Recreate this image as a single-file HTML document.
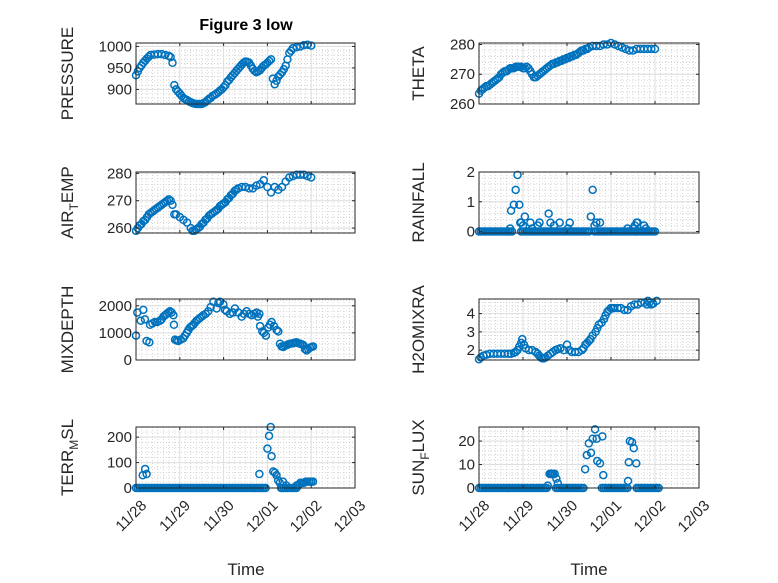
<!DOCTYPE html>
<html><head><meta charset="utf-8"><style>
html,body{margin:0;padding:0;background:#fff;}
svg{display:block;font-family:"Liberation Sans","DejaVu Sans",sans-serif;}
</style></head><body>
<svg id="fig" width="778" height="583" viewBox="0 0 778 583" xmlns="http://www.w3.org/2000/svg">
<rect width="778" height="583" fill="#fff"/>
<text x="246" y="30" font-size="16" font-weight="bold" text-anchor="middle" fill="#000">Figure 3 low</text>
<text x="246" y="575" font-size="17" text-anchor="middle" fill="#262626">Time</text>
<text x="589" y="575" font-size="17" text-anchor="middle" fill="#262626">Time</text>
</svg>
<script>
// ---- data (hours since 11/28 00:00) ----
const dateLabels = ["11/28","11/29","11/30","12/01","12/02","12/03"];

const presHours = [0,1,2,3,4,5,6,7,8,10,12,14,16,18,19,20,21,22,23,24,25,26,27,28,29,30,31,32,33,34,35,36,37,38,39,40,41,42,43,44,45,46,47,48,49,50,51,52,53,54,55,56,57,58,59,60,61,62,63,64,65,66,67,68,69,70,71,72,73,74,75,76,77,78,79,80,81,82,83,84,85,86,88,90,92,94,96];
const presVals  = [933,942,950,956,962,967,972,976,980,981,982,982,980,978,975,962,910,900,895,890,885,880,877,875,872,870,868,867,866,866,866,866,868,870,874,878,880,885,887,890,893,897,900,905,910,918,922,928,933,938,943,948,953,958,962,965,964,962,955,948,943,940,942,945,950,955,958,962,966,970,925,912,920,930,935,940,947,955,970,985,990,996,998,1000,1003,1004,1002,1000,997];

const airHours = [0,1,2,3,4,5,6,7,8,9,10,11,12,13,14,15,16,17,18,19,20,21,22,24,26,28,30,31,32,33,34,35,36,37,38,39,40,41,42,43,44,45,46,47,48,49,50,51,52,53,54,55,56,58,60,62,64,66,68,70,72,74,76,78,80,82,84,86,88,90,92,94,96];
const airVals  = [259,260,261,261.5,262.5,263,264,265,265.5,266,266.5,267,267.5,268,268.5,269,269.5,270,270.5,270,268.5,265,265,264,263,262,260,259,259,259.5,260,260.5,261.5,262,263,263.5,264.5,265,265.5,266,266.5,267,268,268.5,269,269.5,270.5,271,272,272.5,273.5,274,274.5,275,275,274.5,274.5,275.5,276,277.5,275,273,275,274,275,277,278.5,279,279.5,279.5,279.5,279,278.5];

const thetaHours = [0,1,2,3,4,5,6,7,8,9,10,11,12,13,14,15,16,17,18,19,20,21,22,23,24,25,26,27,28,29,30,31,32,33,34,35,36,37,38,39,40,41,42,43,44,45,46,47,48,49,50,51,52,53,54,55,56,57,58,59,60,62,64,66,68,70,72,74,76,78,80,82,84,86,88,90,92,94,96];
const thetaVals  = [263.5,264.5,265,265.5,266,266,266.5,267,267.5,268,268.5,269,270,270.5,271,271,271.5,272,272,272,272.5,272.5,272.5,272.5,272,272,272.5,272,271,270,269,269,269.5,270,270.5,271,271.5,272,272.5,273,273.5,273.5,274,274,274.5,274.5,275,275,275.5,275.5,276,276,276.5,276.5,277,277.5,278,278,278.5,278.5,279,279.5,279.5,279.5,280,280,280.5,280,279.5,279,278.5,278,278,278.5,278.5,278.5,278.5,278.5,278.5];

const rainHours = [17,17.5,19,20,21,22,22.5,23,24,25,28,29,32,33,38,39,41,44,48.5,49.5,61,62,63,64,66,81,84,85,86,86.5,90,91];
const rainVals  = [0.1,0.7,0.9,1.4,1.9,0.9,0.3,0.3,0.2,0.5,0.3,0.1,0.2,0.3,0.6,0.3,0.2,0.3,0.1,0.3,0.5,1.4,0.2,0.3,0.3,0.1,0.1,0.2,0.3,0.3,0.2,0.1];
const rainZeroHours = [0,1,2,3,4,5,6,7,8,9,10,11,12,13,14,15,16,17,18,23,24,25,26,27,28,29,30,31,32,33,34,35,36,37,38,39,40,41,42,43,44,45,46,47,48,49,50,51,52,53,54,55,56,57,58,59,60,63,64,65,66,67,68,69,70,71,72,73,74,75,76,77,78,79,80,81,82,83,84,85,86,87,88,89,90,91,92,93,94,95,96];

const mixHours = [0,0.7,2.6,4,4.9,5.8,7.3,7.7,9,10.4,11.7,13.2,14,15,15.9,16.8,17.7,18.6,19.5,20.5,20.8,21.4,22.3,23.2,24.5,25.9,26.8,27.8,28.7,29.6,30.5,31.4,32.3,33.2,34.1,35,36,36.9,38.2,39.6,40.9,42.4,44.2,45.1,46,47.9,48.8,49.7,51.5,53,54.2,56.1,57.9,59.2,60.6,62.1,63.4,64.8,66.1,66.8,67.6,68,69.2,70.1,71.2,72.5,73.4,74.3,75.6,77.1,78,78.9,79.8,80.7,81.6,82.6,83.5,84.4,85.3,86.2,87.1,88,89,89.9,90.8,91.7,92.6,93.5,94.4,95.3,96.2,97];
const mixVals  = [900,1750,1450,1850,1500,700,650,1300,1350,1400,1400,1450,1500,1600,1650,1700,1750,1800,1750,1650,1300,750,720,700,750,800,900,1000,1100,1200,1250,1300,1380,1450,1500,1550,1600,1650,1700,1800,1950,2150,1900,2100,2150,2050,1850,1800,1700,1750,1900,1750,1600,1700,1800,1700,1650,1700,1750,1600,1700,1250,1050,1000,900,1200,1300,1400,1250,1100,1050,600,500,480,520,550,580,600,610,620,640,650,620,600,580,550,400,350,400,450,480,500];

const h2oHours = [0,1,2.4,4,6,8,10,12,14,16,17.5,19,20,21,22,23,23.6,24.5,25.5,27.2,29,30.9,32,32.8,33.7,34.5,35.4,36.3,37.6,39,40.3,41.7,43,44.4,46.3,48,49.3,50.6,52.4,54.3,56.1,57,58,59,60,60.8,62,63.6,64.5,65.4,66.8,68.2,69,70,71,71.9,73,73.8,75.6,77.4,79.3,81.1,82.9,84.8,86.6,88.4,90.3,91.6,92.1,93,94,95,96.9];
const h2oVals  = [1.5,1.6,1.7,1.75,1.8,1.8,1.8,1.8,1.8,1.8,1.8,1.85,1.9,2.0,2.2,2.4,2.6,2.3,2.1,2.0,2.0,1.9,1.8,1.7,1.6,1.55,1.55,1.6,1.7,1.8,1.9,2.0,2.05,2.1,2.0,2.3,2.0,1.9,1.9,1.9,2.0,2.1,2.3,2.4,2.5,2.6,2.8,3.0,3.2,3.4,3.5,3.7,3.9,4.1,4.2,4.3,4.3,4.3,4.3,4.3,4.2,4.2,4.4,4.5,4.5,4.6,4.6,4.5,4.7,4.6,4.5,4.55,4.7];

const terrHours = [3.7,5,5.8,67.6,72,72.9,73.8,74.3,75.2,76.1,77,77.9,78.8,80.5,82.3,88,89,90,91,92,93,94,95,96,97];
const terrVals  = [50,75,55,55,155,205,240,125,65,60,50,30,20,25,10,10,10,20,20,20,25,25,25,25,25];
const terrZeroHours = [0,1,2,3,4,5,6,7,8,9,10,11,12,13,14,15,16,17,18,19,20,21,22,23,24,25,26,27,28,29,30,31,32,33,34,35,36,37,38,39,40,41,42,43,44,45,46,47,48,49,50,51,52,53,54,55,56,57,58,59,60,61,62,63,64,65,66,67,68,69,70,71,79.5,80,81,82,83,84,85,86,87,88];

const sunHours = [37.5,38.5,39,39.5,40,40.4,41.3,42.2,43,57.9,58.8,59.9,61.1,62,63.3,64.2,64.5,66,67.3,67.8,81.3,81.7,82.3,83.5,84.4,85.8];
const sunVals  = [1,6,6,6,6,6,6,4,2,8,14,19,15,21,25,21,11.5,10.5,22,5.5,3,11,20,19.5,17,10.5];
const sunZeroHours = [0,1,2,3,4,5,6,7,8,9,10,11,12,13,14,15,16,17,18,19,20,21,22,23,24,25,26,27,28,29,30,31,32,33,34,35,36,37,42,43,44,45,46,47,48,49,50,51,52,53,54,55,56,57,67,68,69,70,71,72,73,74,75,76,77,78,79,80,81,86,87,88,89,90,91,92,93,94,95,96,97,98];

// ---- layout ----
const svg = document.getElementById('fig');
const NS = 'http://www.w3.org/2000/svg';
const BLUE = '#0072BD';
function mk(tag, attrs, parent){ const e=document.createElementNS(NS,tag); for(const k in attrs) e.setAttribute(k, attrs[k]); (parent||svg).appendChild(e); return e; }

function panel(cfg){
  const g = mk('g', {});
  
  
  const x0=cfg.x, y0=cfg.y, w=cfg.w, h=cfg.h;
  const sx = t => x0 + t/120*w;
  const sy = v => y0 + h - (v-cfg.ymin)/(cfg.ymax-cfg.ymin)*h;
  mk('rect',{x:x0,y:y0,width:w,height:h,fill:'#fff'},g);
  for(let t=0;t<=120;t+=3){ if(t%24===0) continue;
    mk('line',{x1:sx(t),x2:sx(t),y1:y0,y2:y0+h,stroke:'#c4c4c4','stroke-width':0.7,'stroke-dasharray':'1,2'},g); }
  for(let v=cfg.minorStart; v<=cfg.ymax+1e-9; v+=cfg.minor){ const yy=sy(v); if(yy<y0||yy>y0+h) continue;
    mk('line',{x1:x0,x2:x0+w,y1:yy,y2:yy,stroke:'#c4c4c4','stroke-width':0.7,'stroke-dasharray':'1,2'},g); }
  for(let i=1;i<5;i++){ mk('line',{x1:sx(i*24),x2:sx(i*24),y1:y0,y2:y0+h,stroke:'#dedede','stroke-width':1},g); }
  cfg.yticks.forEach(v=>{ const yy=sy(v); mk('line',{x1:x0,x2:x0+w,y1:yy,y2:yy,stroke:'#dedede','stroke-width':1},g); });
  const clip = mk('clipPath',{id:'c'+cfg.name},g);
  mk('rect',{x:x0-5,y:y0-5,width:w+10,height:h+10},clip);
  const dg = mk('g',{'clip-path':'url(#c'+cfg.name+')'},g);
  function dot(t,v){
    const c = mk('circle',{cx:sx(t).toFixed(2),cy:sy(v).toFixed(2),r:3.5,fill:'none',stroke:BLUE,'stroke-width':1.5},dg);
    
    
  }
  (cfg.zeroHours||[]).forEach(t=>dot(t,0));
  cfg.hours.forEach((t,i)=>dot(t,cfg.vals[i]));
  mk('rect',{x:x0,y:y0,width:w,height:h,fill:'none',stroke:'#262626','stroke-width':1},g);
  for(let i=0;i<=5;i++){ const xx=sx(i*24);
    mk('line',{x1:xx,x2:xx,y1:y0+h,y2:y0+h-3,stroke:'#262626'},g);
    mk('line',{x1:xx,x2:xx,y1:y0,y2:y0+3,stroke:'#262626'},g);
    if(cfg.xlabels){
      const tx = mk('text',{x:xx+4,y:y0+h+11,'font-size':15,fill:'#262626','text-anchor':'end',transform:`rotate(-45 ${xx+4} ${y0+h+11})`,'dominant-baseline':'hanging'},g);
      tx.textContent = dateLabels[i];
      
      
    }
  }
  cfg.yticks.forEach(v=>{ const yy=sy(v);
    mk('line',{x1:x0,x2:x0+3,y1:yy,y2:yy,stroke:'#262626'},g);
    mk('line',{x1:x0+w,x2:x0+w-3,y1:yy,y2:yy,stroke:'#262626'},g);
    const tx = mk('text',{x:x0-4,y:yy+5,'font-size':15,fill:'#262626','text-anchor':'end'},g);
    tx.textContent = String(v);
    
    
  });
  const lx = cfg.lx, ly = y0 + h/2;
  const lt = mk('text',{x:lx,y:ly,'font-size':17,fill:'#262626','text-anchor':'middle',transform:`rotate(-90 ${lx} ${ly})`},g);
  
  
  cfg.label.forEach(p=>{ const s=mk('tspan',{},lt); s.textContent=p[0];
    if(p[1]==='sub'){ s.setAttribute('font-size','12'); s.setAttribute('dy','5'); }
    else if(p[1]==='back'){ s.setAttribute('dy','-5'); } });
}

const L = {x:136,w:219}, R = {x:479,w:220};
const rows = [43,172,299,427], H = 61;
panel({name:'pressure',x:L.x,w:L.w,y:rows[0],h:H,ymin:866,ymax:1008,yticks:[900,950,1000],minor:10,minorStart:870,hours:presHours,vals:presVals,label:[['PRESSURE']],lx:73});
panel({name:'theta',x:R.x,w:R.w,y:rows[0],h:H,ymin:260,ymax:280.5,yticks:[260,270,280],minor:2,minorStart:260,hours:thetaHours,vals:thetaVals,label:[['THETA']],lx:424});
panel({name:'air-temp',x:L.x,w:L.w,y:rows[1],h:H,ymin:258.2,ymax:280.5,yticks:[260,270,280],minor:2,minorStart:260,hours:airHours,vals:airVals,label:[['AIR'],['T','sub'],['EMP','back']],lx:73});
panel({name:'rainfall',x:R.x,w:R.w,y:rows[1],h:H,ymin:-0.05,ymax:2,yticks:[0,1,2],minor:0.2,minorStart:0,hours:rainHours,vals:rainVals,zeroHours:rainZeroHours,label:[['RAINFALL']],lx:424});
panel({name:'mixdepth',x:L.x,w:L.w,y:rows[2],h:H,ymin:0,ymax:2250,yticks:[0,1000,2000],minor:200,minorStart:0,hours:mixHours,vals:mixVals,label:[['MIXDEPTH']],lx:73});
panel({name:'h2omixra',x:R.x,w:R.w,y:rows[2],h:H,ymin:1.46,ymax:4.8,yticks:[2,3,4],minor:0.2,minorStart:1.6,hours:h2oHours,vals:h2oVals,label:[['H2OMIXRA']],lx:424});
panel({name:'terr-msl',x:L.x,w:L.w,y:rows[3],h:H,ymin:0,ymax:240,yticks:[0,100,200],minor:20,minorStart:0,hours:terrHours,vals:terrVals,zeroHours:terrZeroHours,label:[['TERR'],['M','sub'],['SL','back']],lx:73,xlabels:true});
panel({name:'sun-flux',x:R.x,w:R.w,y:rows[3],h:H,ymin:0,ymax:26,yticks:[0,10,20],minor:2,minorStart:0,hours:sunHours,vals:sunVals,zeroHours:sunZeroHours,label:[['SUN'],['F','sub'],['LUX','back']],lx:424,xlabels:true});
</script>
</body></html>
